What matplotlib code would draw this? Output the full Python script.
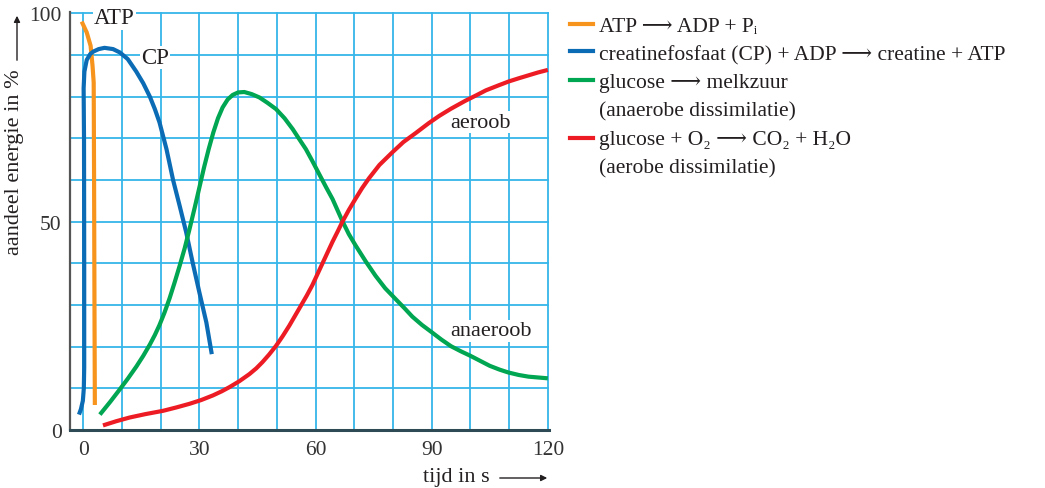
import matplotlib
matplotlib.use("Agg")
import matplotlib.pyplot as plt
from matplotlib.lines import Line2D
from matplotlib.patches import FancyArrowPatch
from matplotlib.ticker import MultipleLocator

plt.rcParams['font.family'] = ['Liberation Serif', 'DejaVu Serif', 'DejaVu Sans']

# ---- data ----
atp_x = [-0.4, 0.9, 1.9, 2.4, 2.7, 2.8, 2.9, 3.0]
atp_y = [98.0, 95.4, 92.2, 87.4, 83.4, 60.0, 30.0, 6.0]

cp_x = [-1.1, -0.6, -0.1, 0.15, 0.25, 0.25, 0.2, 0.1, 0.3, 0.9, 1.8, 2.6, 4.0,
        5.5, 7.7, 9.45, 11.5, 13.7, 15.5, 17.2, 18.5, 19.7, 21.5, 23.2, 24.9,
        26.6, 28.3, 30.0, 31.8, 33.2]
cp_y = [3.7, 5.0, 7.0, 10.0, 15.0, 40.0, 70.0, 82.0, 86.0, 88.8, 90.2, 90.8, 91.4,
        91.7, 91.4, 90.6, 89.0, 86.0, 83.2, 80.0, 77.0, 73.8, 67.4, 60.0, 53.8,
        47.4, 40.0, 33.0, 25.8, 18.2]

glu_x = [4.3, 7.0, 9.4, 11.5, 13.7, 15.5, 17.2, 18.5, 19.7, 21.0, 22.3, 23.6,
         24.9, 26.2, 27.5, 28.8, 30.0, 31.2, 32.4, 33.6, 34.8, 36.0, 37.3, 38.6,
         40.0, 41.6, 43.5, 45.5, 47.6, 49.8, 52.0, 54.1, 56.0, 57.5, 59.2, 61.0,
         62.7, 64.4, 66.9, 68.6, 70.4, 73.0, 75.5, 78.0, 80.7, 83.0, 85.0, 87.5,
         90.1, 92.5, 95.0, 97.5, 100.0, 102.5, 105.0, 107.5, 109.8, 112.5, 115.0,
         117.5, 120.0]
glu_y = [3.7, 6.8, 9.7, 12.3, 15.2, 17.8, 20.5, 22.8, 25.2, 28.2, 31.6, 35.4,
         39.4, 43.6, 48.4, 53.4, 58.2, 63.0, 67.4, 71.4, 74.8, 77.4, 79.3, 80.4,
         81.0, 81.1, 80.6, 79.8, 78.5, 77.0, 74.8, 72.2, 69.5, 67.4, 64.5, 61.3,
         58.3, 55.4, 50.2, 47.0, 44.2, 40.4, 37.0, 34.0, 31.4, 29.2, 27.2, 25.2,
         23.4, 21.7, 20.1, 18.9, 17.8, 16.6, 15.4, 14.5, 13.8, 13.2, 12.8,
         12.6, 12.4]

aer_x = [5.1, 8.5, 12.0, 16.0, 20.6, 24.0, 27.5, 30.5, 33.5, 35.8, 37.8, 40.3,
         42.9, 44.7, 46.3, 48.0, 49.8, 51.5, 53.2, 54.7, 56.2, 57.7, 59.2, 60.6,
         61.9, 63.2, 64.4, 65.7, 66.9, 68.6, 70.4, 72.0, 73.8, 76.5, 79.8, 82.7,
         85.8, 89.2, 92.0, 95.0, 98.7, 101.5, 104.0, 107.0, 109.8, 112.5, 115.0,
         117.5, 120.0]
aer_y = [1.1, 2.1, 3.0, 3.8, 4.6, 5.4, 6.3, 7.2, 8.3, 9.3, 10.3, 11.7,
         13.4, 14.8, 16.3, 18.1, 20.2, 22.5, 25.0, 27.4, 29.8, 32.2, 34.8, 37.6,
         40.2, 42.8, 45.2, 47.6, 49.9, 52.8, 55.6, 58.0, 60.4, 63.6, 66.6, 69.1,
         71.2, 73.6, 75.4, 77.1, 79.0, 80.3, 81.5, 82.6, 83.6, 84.4, 85.1,
         85.8, 86.4]

legend_lines = [["ATP \u27f6 ADP + P\u1d62"],
                ["creatinefosfaat (CP) + ADP \u27f6 creatine + ATP"],
                ["glucose \u27f6 melkzuur", "(anaerobe dissimilatie)"],
                ["glucose + O\u2082 \u27f6 CO\u2082 + H\u2082O", "(aerobe dissimilatie)"]]
x_ticks = [0, 30, 60, 90, 120]
y_ticks = [0, 50, 100]

colors = ['#f7941d', '#0b6cb5', '#00a651', '#ed1c24']
grid_c = '#35b6ea'
text_c = '#231f20'

W, H = 1045, 489
fig = plt.figure(figsize=(W / 100, H / 100), dpi=100)
ax = fig.add_axes([70 / W, 1 - 431 / H, (549 - 70) / W, (431 - 13) / H])

def px(x, y):
    return (x / W, 1 - y / H)

ax.set_xlim(-3.42, 120.3)
ax.set_ylim(0, 100.3)
ax.xaxis.set_minor_locator(MultipleLocator(10))
ax.yaxis.set_minor_locator(MultipleLocator(10))
ax.set_xticks(x_ticks)
ax.set_yticks(y_ticks)
ax.grid(True, which='both', color=grid_c, lw=1.3, zorder=0)
ax.set_axisbelow(True)
ax.tick_params(which='both', length=0, labelsize=15.5, labelcolor='#333333')
ax.tick_params(axis='y', pad=6)
ax.tick_params(axis='x', pad=7)
for s in ['top', 'right']:
    ax.spines[s].set_visible(False)
ax.spines['left'].set_color('#555555')
ax.spines['left'].set_linewidth(1.6)
ax.spines['bottom'].set_color('#2e4a55')
ax.spines['bottom'].set_linewidth(2.2)

lw = 3.0
ax.plot(atp_x, atp_y, color=colors[0], lw=lw, solid_capstyle='butt', zorder=3)
ax.plot(cp_x, cp_y, color=colors[1], lw=lw, solid_capstyle='butt', zorder=3)
ax.plot(glu_x, glu_y, color=colors[2], lw=lw, solid_capstyle='butt', zorder=3, clip_on=False)
ax.plot(aer_x, aer_y, color=colors[3], lw=lw, solid_capstyle='butt', zorder=3, clip_on=False)

bb = dict(facecolor='white', edgecolor='none', pad=1.0)
ax.text(8.1, 98.9, "ATP", fontsize=16.5, color=text_c, ha='center', va='center', bbox=bb, zorder=2)
ax.text(18.5, 89.4, "CP", fontsize=16.5, color=text_c, ha='center', va='center', bbox=bb, zorder=2)
ax.text(102.5, 73.9, "aeroob", fontsize=16, color=text_c, ha='center', va='center', bbox=bb, zorder=2)
ax.text(105.2, 23.8, "anaeroob", fontsize=16, color=text_c, ha='center', va='center', bbox=bb, zorder=2)

# axis labels with arrows
fig.text(*px(15, 162), "aandeel energie in %", rotation=90, fontsize=16,
         color=text_c, ha='center', va='center')
fig.add_artist(FancyArrowPatch(px(17, 64), px(17, 14), transform=fig.transFigure,
                               arrowstyle='-|>', mutation_scale=9, color=text_c, lw=1.0))
fig.text(*px(456, 478), "tijd in s", fontsize=16, color=text_c, ha='center', va='center')
fig.add_artist(FancyArrowPatch(px(497, 479), px(550, 479), transform=fig.transFigure,
                               arrowstyle='-|>', mutation_scale=9, color=text_c, lw=1.0))

# legend
mark_rows = [25, 52, 81, 139]
baselines = [[31.5], [60], [88, 116.5], [145, 173]]
for lines, c, r, bls in zip(legend_lines, colors, mark_rows, baselines):
    fig.add_artist(Line2D([570 / W, 593 / W], [1 - r / H] * 2, color=c, lw=3.0,
                          transform=fig.transFigure))
    for t, b in zip(lines, bls):
        fig.text(599 / W, 1 - b / H, t, fontsize=15.5, color=text_c,
                 ha='left', va='baseline')

fig.savefig("out.png", dpi=100)
